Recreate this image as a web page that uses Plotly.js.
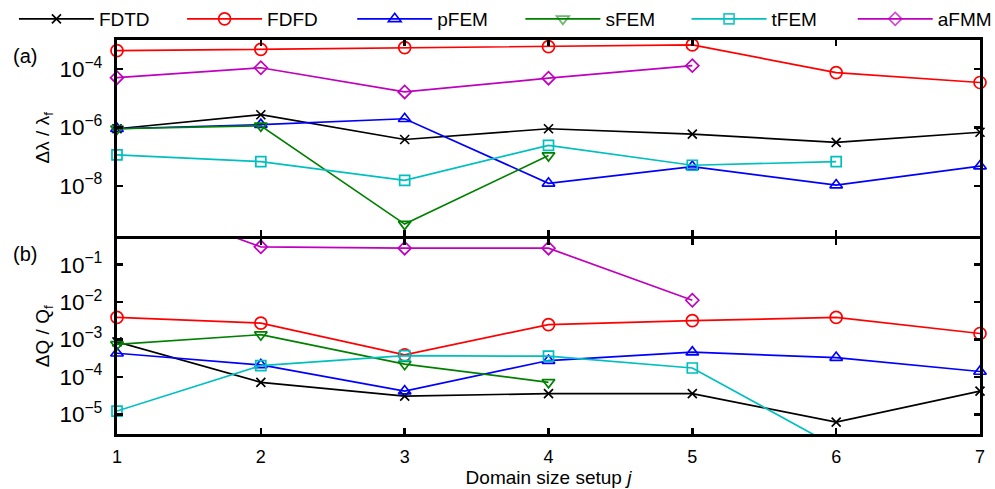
<!DOCTYPE html>
<html>
<head>
<meta charset="utf-8">
<script src="https://cdn.plot.ly/plotly-3.0.1.min.js"></script>
<style>html,body{margin:0;padding:0;background:#fff;}#chart{width:995px;height:489px;}</style>
</head>
<body>
<div id="chart"></div>
<script>
// Domain size setup j
const setups = [1, 2, 3, 4, 5, 6, 7];
const methods = ['FDTD', 'FDFD', 'pFEM', 'sFEM', 'tFEM', 'aFMM'];

// (a) relative wavelength error  Δλ / λf
const dLam_FDTD = [9.1e-7, 2.75e-6, 3.9e-7, 9.1e-7, 6.0e-7, 3.1e-7, 6.9e-7];
const dLam_FDFD = [4.3e-4, 4.8e-4, 5.5e-4, 5.9e-4, 6.8e-4, 7.6e-5, 3.5e-5];
const dLam_pFEM = [9.1e-7, 1.26e-6, 2.0e-6, 1.23e-8, 4.6e-8, 1.07e-8, 4.8e-8];
const dLam_sFEM = [9.1e-7, 1.15e-6, 4.9e-10, 1.1e-7, null, null, null];
const dLam_tFEM = [1.15e-7, 6.8e-8, 1.55e-8, 2.45e-7, 5.1e-8, 6.8e-8, null];
const dLam_aFMM = [5.1e-5, 1.12e-4, 1.66e-5, 4.9e-5, 1.32e-4, null, null];

// (b) relative Q error  ΔQ / Qf
const dQ_FDTD = [8.7e-4, 7.2e-5, 3.1e-5, 3.6e-5, 3.6e-5, 6.2e-6, 4.2e-5];
const dQ_FDFD = [3.9e-3, 2.75e-3, 3.9e-4, 2.5e-3, 3.2e-3, 3.9e-3, 1.45e-3];
const dQ_pFEM = [4.3e-4, 2.1e-4, 4.2e-5, 2.75e-4, 4.6e-4, 3.3e-4, 1.4e-4];
const dQ_sFEM = [7.4e-4, 1.35e-3, 2.2e-4, 7.2e-5, null, null, null];
const dQ_tFEM = [1.23e-5, 2.0e-4, 3.7e-4, 3.6e-4, 1.74e-4, 1.35e-6, null];
const dQ_aFMM = [7.4, 0.30, 0.275, 0.275, 0.0112, null, null];

// axis ranges (data units)
const rangeA = [2e-10, 1e-3];
const rangeB = [3e-6, 0.5];

const lamData = [dLam_FDTD, dLam_FDFD, dLam_pFEM, dLam_sFEM, dLam_tFEM, dLam_aFMM];
const qData = [dQ_FDTD, dQ_FDFD, dQ_pFEM, dQ_sFEM, dQ_tFEM, dQ_aFMM];

const colors = ['#000000', '#ff0000', '#0000ff', '#008000', '#00bfbf', '#bf00bf'];
const symbols = ['x-thin-open', 'circle-open', 'triangle-up-open', 'triangle-down-open', 'square-open', 'diamond-open'];
const sizes = [9, 12, 11, 11, 10, 10];
// left edge (container fraction) of each legend entry
const legendX = [0.014, 0.183, 0.354, 0.523, 0.690, 0.857];

const FONT = 'Liberation Sans, Arial, Helvetica, sans-serif';
const LW = 1.7;
const GAP = 1.5 / 394; // half axis-line width as a fraction of plot height

function inRange(v, r) { return v !== null && v >= r[0] && v <= r[1]; }
function legendId(i) { return i === 0 ? 'legend' : 'legend' + (i + 1); }

const traces = [];
methods.forEach((m, i) => {
  const mk = {symbol: symbols[i], size: sizes[i], color: colors[i], line: {color: colors[i], width: LW}};
  traces.push({
    x: setups, y: lamData[i], xaxis: 'x2', yaxis: 'y2', name: m, legendgroup: m,
    legend: legendId(i),
    mode: 'lines+markers', cliponaxis: false,
    line: {color: colors[i], width: LW},
    marker: Object.assign({}, mk, {opacity: lamData[i].map(v => inRange(v, rangeA) ? 1 : 0)}),
    showlegend: true
  });
});
methods.forEach((m, i) => {
  const mk = {symbol: symbols[i], size: sizes[i], color: colors[i], line: {color: colors[i], width: LW}};
  traces.push({
    x: setups, y: qData[i], xaxis: 'x', yaxis: 'y', name: m, legendgroup: m,
    legend: legendId(i),
    mode: 'lines+markers', cliponaxis: false,
    line: {color: colors[i], width: LW},
    marker: Object.assign({}, mk, {opacity: qData[i].map(v => inRange(v, rangeB) ? 1 : 0)}),
    showlegend: false
  });
});

const axBase = {
  showline: true, linecolor: '#000', linewidth: 3, mirror: 'ticks',
  ticks: 'inside', ticklen: 6, tickwidth: 2.5, tickcolor: '#000',
  showgrid: false, zeroline: false, automargin: false,
  tickfont: {family: FONT, size: 18, color: '#000'}
};

const layout = {
  width: 995, height: 489,
  margin: {l: 117, r: 15, t: 40, b: 55, autoexpand: false},
  paper_bgcolor: '#fff', plot_bgcolor: '#fff',
  font: {family: FONT, size: 19, color: '#000'},
  showlegend: true,
  xaxis: Object.assign({}, axBase, {
    domain: [0, 1], anchor: 'y', range: [1, 7], tickvals: setups,
    ticklabelstandoff: 4,
    title: {text: 'Domain size setup <i>j</i>', font: {family: FONT, size: 19}, standoff: 6}
  }),
  yaxis: Object.assign({}, axBase, {
    domain: [0, 0.5 - GAP], anchor: 'x', type: 'log',
    range: [Math.log10(rangeB[0]), Math.log10(rangeB[1])], dtick: 1, exponentformat: 'power',
    ticklabelstandoff: 8,
    title: {text: 'ΔQ / Q<sub>f</sub>', font: {family: FONT, size: 19}, standoff: 5}
  }),
  xaxis2: Object.assign({}, axBase, {
    domain: [0, 1], anchor: 'y2', matches: 'x', range: [1, 7], tickvals: setups, showticklabels: false
  }),
  yaxis2: Object.assign({}, axBase, {
    domain: [0.5 + GAP, 1], anchor: 'x2', type: 'log',
    range: [Math.log10(rangeA[0]), Math.log10(rangeA[1])], dtick: 2, exponentformat: 'power',
    ticklabelstandoff: 8,
    title: {text: 'Δλ / λ<sub>f</sub>', font: {family: FONT, size: 19}, standoff: 5}
  }),
  annotations: [
    {text: '(a)', xref: 'paper', yref: 'paper', x: -0.1066, y: 0.959, xanchor: 'center', yanchor: 'middle', showarrow: false, font: {family: FONT, size: 20}},
    {text: '(b)', xref: 'paper', yref: 'paper', x: -0.1066, y: 0.457, xanchor: 'center', yanchor: 'middle', showarrow: false, font: {family: FONT, size: 20}}
  ]
};

methods.forEach((m, i) => {
  layout[legendId(i)] = {
    orientation: 'h', xref: 'container', yref: 'container',
    x: legendX[i], xanchor: 'left', y: 1.0, yanchor: 'top',
    itemwidth: 75, font: {family: FONT, size: 19, color: '#000'},
    bgcolor: 'rgba(0,0,0,0)', borderwidth: 0
  };
});

Plotly.newPlot('chart', traces, layout, {staticPlot: true, displayModeBar: false});
</script>
</body>
</html>
